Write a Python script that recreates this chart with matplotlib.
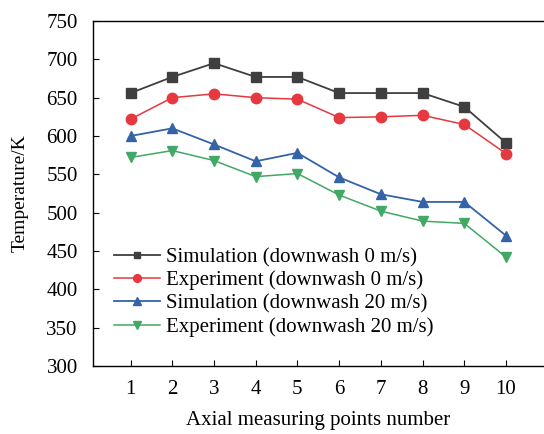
import matplotlib
matplotlib.use('Agg')
import matplotlib.pyplot as plt

plt.rcParams['font.family'] = ['Liberation Serif', 'DejaVu Serif']

points = [1, 2, 3, 4, 5, 6, 7, 8, 9, 10]
sim_0 = [656, 677, 695, 677, 677, 656, 656, 656, 638, 591]
exp_0 = [622, 650, 655, 650, 648, 624, 625, 627, 615, 577]
sim_20 = [600, 610, 589, 567, 578, 546, 524, 514, 514, 470]
exp_20 = [572, 581, 568, 547, 551, 523, 502, 489, 486, 442]
labels = ['Simulation (downwash 0 m/s)', 'Experiment (downwash 0 m/s)',
          'Simulation (downwash 20 m/s)', 'Experiment (downwash 20 m/s)']

fig = plt.figure(figsize=(5.44, 4.34), dpi=100)
ax = fig.add_axes([93 / 544, 1 - 366 / 434, 1 - 93 / 544, (366 - 21) / 434])

ax.plot(points, sim_0, color='#3f3f3f', marker='s', markersize=6.5, lw=1.3, label=labels[0])
ax.plot(points, exp_0, color='#e5383f', marker='o', markersize=7.5, lw=1.1, label=labels[1])
ax.plot(points, sim_20, color='#3463a8', marker='^', markersize=7.5, lw=1.3, label=labels[2])
ax.plot(points, exp_20, color='#41a865', marker='v', markersize=7.5, lw=1.1, label=labels[3])

ax.set_xlim(0.1, 10.91)
ax.set_ylim(300, 750)
ax.set_xticks(points)
ax.set_yticks(range(300, 751, 50))
ax.tick_params(direction='in', labelsize=15, length=4)
ax.tick_params(axis='x', pad=10)
ax.tick_params(axis='y', pad=11)
ax.spines['right'].set_visible(False)
for s in ['left', 'bottom', 'top']:
    ax.spines[s].set_linewidth(1.0)

ax.set_xlabel('Axial measuring points number', fontsize=15, labelpad=9)
ax.set_ylabel('Temperature/K', fontsize=14, labelpad=13)

ax.legend(loc='lower left', bbox_to_anchor=(0.005, 0.03), frameon=False, fontsize=15,
          handlelength=2.2, labelspacing=0.17, handletextpad=0.3, borderaxespad=0.5,
          markerscale=0.75)

fig.savefig('out.png', dpi=100)
